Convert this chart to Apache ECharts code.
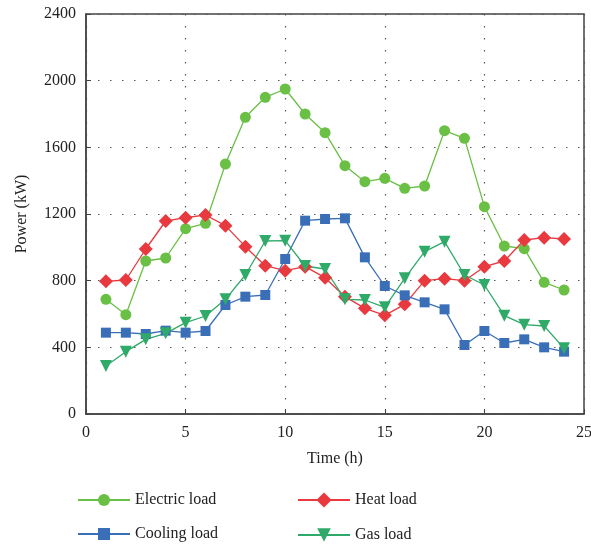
<!DOCTYPE html>
<html><head><meta charset="utf-8">
<script src="https://cdn.jsdelivr.net/npm/echarts@6/dist/echarts.min.js"></script>
<style>html,body{margin:0;padding:0;background:#fff}#c{width:591px;height:546px}</style>
</head><body><div id="c"></div>
<script>
const hours = [1,2,3,4,5,6,7,8,9,10,11,12,13,14,15,16,17,18,19,20,21,22,23,24];
const electricLoad = [688,596,918,936,1112,1144,1500,1780,1900,1950,1800,1688,1490,1394,1414,1354,1368,1700,1654,1244,1008,992,790,744];
const heatLoad = [796,804,990,1158,1178,1194,1130,1004,890,860,884,818,704,634,592,658,800,812,800,884,918,1044,1058,1050];
const coolingLoad = [488,488,480,500,488,498,654,704,714,930,1160,1170,1174,940,768,712,670,628,414,498,426,448,400,374];
const gasLoad = [288,374,448,484,548,588,688,834,1038,1040,888,870,688,684,640,814,974,1034,834,774,590,536,528,394];
const seriesNames = ['Electric load','Heat load','Cooling load','Gas load'];

const font = 'Liberation Serif';
const pairs = arr => hours.map((h,i)=>[h,arr[i]]);
const chart = echarts.init(document.getElementById('c'));
function mk(name, data, color, symbol, size, rot){
  return {name, type:'line', data:pairs(data), symbol, symbolSize:size, symbolRotate:rot||0,
    lineStyle:{color, width:1.3}, itemStyle:{color}, z: 3};
}
const txt = {fontFamily:font, fontSize:16, color:'#222'};
chart.setOption({
  animation:false,
  grid:{left:86, top:14, right:7, bottom:132, show:true, borderColor:'#444', borderWidth:1.5,
    containLabel:false, outerBoundsMode:'none'},
  xAxis:{type:'value', min:0, max:25, interval:5,
    name:'Time (h)', nameLocation:'middle', nameGap:37,
    nameTextStyle:txt,
    axisLine:{lineStyle:{color:'#444', width:1.5}},
    axisTick:{inside:true, length:5, lineStyle:{color:'#444'}},
    axisLabel:Object.assign({margin:11}, txt),
    splitLine:{show:true, lineStyle:{color:'#555', type:[1.5,10.5], width:1.2}}},
  yAxis:{type:'value', min:0, max:2400, interval:400,
    name:'Power (kW)', nameLocation:'middle', nameGap:56,
    nameTextStyle:txt,
    axisLine:{show:true, lineStyle:{color:'#444', width:1.5}},
    axisTick:{show:true, inside:true, length:5, lineStyle:{color:'#444'}},
    axisLabel:Object.assign({margin:10, formatter: v => String(v)}, txt),
    splitLine:{show:true, lineStyle:{color:'#555', type:[1.5,10.5], width:1.2}}},
  legend:[
    {data:[seriesNames[0]], left:72, top:487, itemGap:7, itemWidth:52, itemHeight:15, textStyle:txt},
    {data:[seriesNames[1]], left:292, top:487, itemGap:14, itemWidth:52, itemHeight:19, textStyle:txt},
    {data:[seriesNames[2]], left:72, top:521, itemGap:7, itemWidth:52, itemHeight:15, textStyle:txt},
    {data:[seriesNames[3]], left:292, top:522, itemGap:14, itemWidth:52, itemHeight:17, textStyle:txt}
  ],
  series:[
    mk(seriesNames[0], electricLoad, '#6abf45', 'circle', 11),
    mk(seriesNames[1], heatLoad, '#e8393f', 'diamond', 14),
    mk(seriesNames[2], coolingLoad, '#3a6fb8', 'rect', 10),
    mk(seriesNames[3], gasLoad, '#2faa68', 'triangle', 12, 180)
  ]
});
</script></body></html>
